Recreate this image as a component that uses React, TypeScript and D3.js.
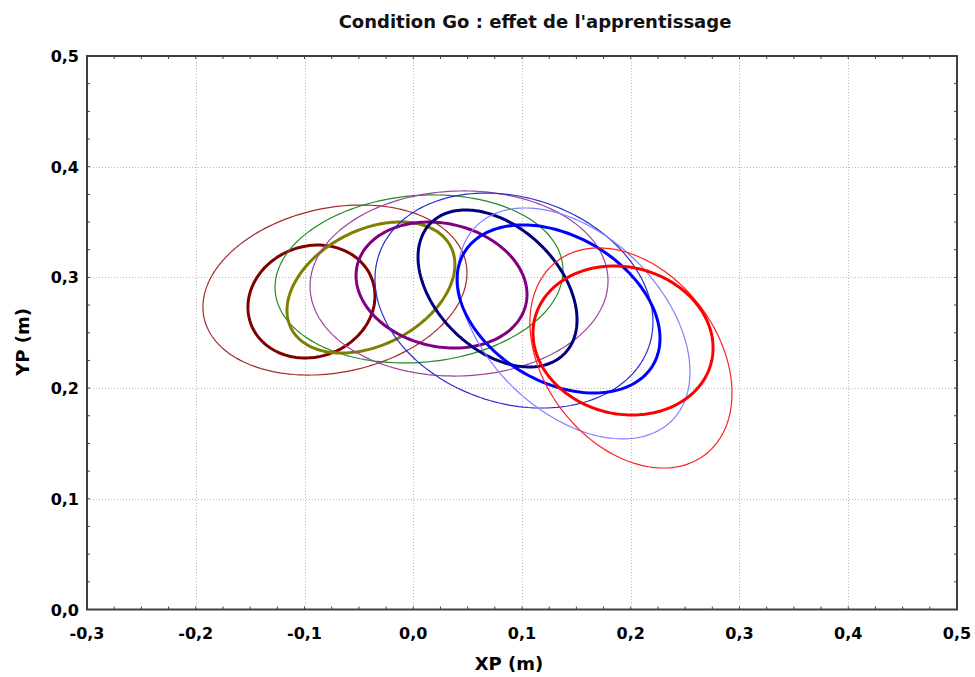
import React from 'react';
import * as d3 from 'd3';

// ellipse order: thin (large) then thick (small), grouped by colour
const ellipseNames = [
    'maroon-thin', 'maroon-thick',
    'green-thin', 'olive-thick',
    'purple-thin', 'purple-thick',
    'blue-thin', 'navy-thick',
    'lightblue-thin', 'blue-thick',
    'red-thin', 'red-thick',
];
const centerX = [-0.072, -0.0936, 0.0053, -0.0389, 0.0421, 0.026, 0.0926, 0.0775, 0.1478, 0.1336, 0.2002, 0.1929];
const centerY = [0.2886, 0.2782, 0.2986, 0.2909, 0.2945, 0.2931, 0.2791, 0.29, 0.2584, 0.2715, 0.2272, 0.243];
const halfWidth = [0.1214, 0.0584, 0.1324, 0.0772, 0.137, 0.0786, 0.1278, 0.0731, 0.1067, 0.0933, 0.0929, 0.0828];
const halfHeight = [0.0768, 0.051, 0.0759, 0.0592, 0.0836, 0.0569, 0.0971, 0.0709, 0.1043, 0.0759, 0.0994, 0.0673];
const correlation = [0.2, 0.1, 0.1, 0.35, 0.03, -0.15, -0.2, -0.4, -0.42, -0.35, -0.32, -0.1];

const xTicks = [-0.3, -0.2, -0.1, 0.0, 0.1, 0.2, 0.3, 0.4, 0.5];
const xTickLabels = ['-0,3', '-0,2', '-0,1', '0,0', '0,1', '0,2', '0,3', '0,4', '0,5'];
const yTicks = [0.0, 0.1, 0.2, 0.3, 0.4, 0.5];
const yTickLabels = ['0,0', '0,1', '0,2', '0,3', '0,4', '0,5'];

const colors = ['#a52a2a', '#800000', '#228b22', '#808000', '#a040a0', '#800080',
    '#2b2bd0', '#000080', '#8080ff', '#0000ff', '#ff2020', '#ff0000'];
const widths = [1.2, 3, 1.2, 3, 1.2, 3, 1.2, 3, 1.2, 3, 1.2, 3];

const W = 975;
const H = 677;
const margin = { top: 56, right: 18, bottom: 67.5, left: 87 };
const font = '"DejaVu Sans", Verdana, sans-serif';

const App: React.FC = () => {
    const x = d3.scaleLinear().domain([-0.3, 0.5]).range([margin.left, W - margin.right]);
    const y = d3.scaleLinear().domain([0, 0.5]).range([H - margin.bottom, margin.top]);

    const steps = d3.range(0, 180);
    const line = d3.line<[number, number]>()
        .x((d) => x(d[0]))
        .y((d) => y(d[1]))
        .curve(d3.curveLinearClosed);

    const ellipsePath = (i: number) => {
        const r = correlation[i];
        const pts = steps.map((s) => {
            const t = (s / steps.length) * Math.PI * 2;
            return [
                centerX[i] + halfWidth[i] * Math.cos(t),
                centerY[i] + halfHeight[i] * (r * Math.cos(t) + Math.sqrt(1 - r * r) * Math.sin(t)),
            ] as [number, number];
        });
        return line(pts) || '';
    };

    const xMinor = d3.range(-0.3, 0.5001, 0.025);
    const yMinor = d3.range(0, 0.5001, 0.025);
    const [x0, x1] = x.range();
    const [y0, y1] = y.range();

    return (
        <svg width={W} height={H} style={{ position: 'absolute', left: 0, top: 0 }}>
            <rect width={W} height={H} fill="#fff" />
            <text x={535} y={28} textAnchor="middle" fontFamily={font} fontWeight="bold" fontSize={18} fill="#111">
                Condition Go : effet de l'apprentissage
            </text>

            {/* dotted grid */}
            <g stroke="#b8b8b8" strokeWidth={1} strokeDasharray="1,2">
                {xTicks.slice(1, -1).map((v) => (
                    <line key={`gx${v}`} x1={Math.round(x(v)) + 0.5} x2={Math.round(x(v)) + 0.5} y1={y1} y2={y0} />
                ))}
                {yTicks.slice(1, -1).map((v) => (
                    <line key={`gy${v}`} x1={x0} x2={x1} y1={Math.round(y(v)) + 0.5} y2={Math.round(y(v)) + 0.5} />
                ))}
            </g>

            {/* ellipses */}
            <g fill="none">
                {ellipseNames.map((name, i) => (
                    <path key={name} d={ellipsePath(i)} stroke={colors[i]} strokeWidth={widths[i]} />
                ))}
            </g>

            {/* minor ticks on all four sides */}
            <g stroke="#404040" strokeWidth={1}>
                {xMinor.map((v, i) => (
                    <g key={`mx${i}`}>
                        <line x1={x(v)} x2={x(v)} y1={y0} y2={y0 - 3} />
                        <line x1={x(v)} x2={x(v)} y1={y1} y2={y1 + 3} />
                    </g>
                ))}
                {yMinor.map((v, i) => (
                    <g key={`my${i}`}>
                        <line x1={x0} x2={x0 + 3} y1={y(v)} y2={y(v)} />
                        <line x1={x1} x2={x1 - 3} y1={y(v)} y2={y(v)} />
                    </g>
                ))}
            </g>

            <rect x={x0} y={y1} width={x1 - x0} height={y0 - y1} fill="none" stroke="#404040" strokeWidth={2} />

            <g fontFamily={font} fontWeight="bold" fontSize={16} fill="#000">
                {xTicks.map((v, i) => (
                    <text key={`xl${v}`} x={x(v)} y={y0 + 29} textAnchor="middle">{xTickLabels[i]}</text>
                ))}
                {yTicks.map((v, i) => (
                    <text key={`yl${v}`} x={x0 - 8} y={y(v) + 6} textAnchor="end">{yTickLabels[i]}</text>
                ))}
            </g>

            <text x={509} y={670} textAnchor="middle" fontFamily={font} fontWeight="bold" fontSize={18}>XP (m)</text>
            <text transform="translate(29,342) rotate(-90)" textAnchor="middle"
                fontFamily={font} fontWeight="bold" fontSize={18}>YP (m)</text>
        </svg>
    );
};

export default App;
